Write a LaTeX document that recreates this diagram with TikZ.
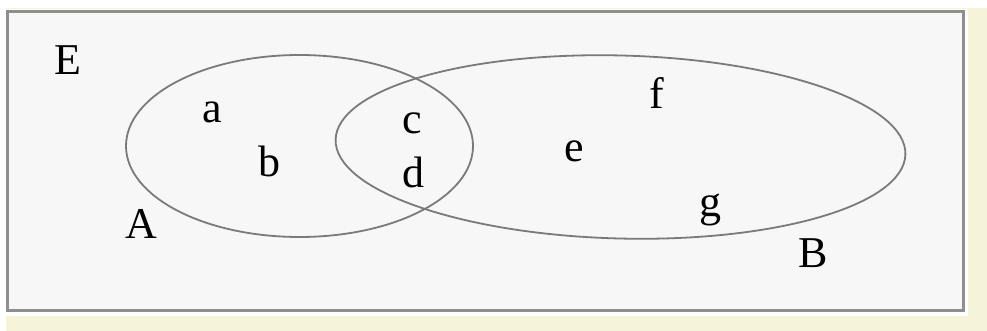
\documentclass[tikz,border=0pt]{standalone}
\usepackage{fontspec}
\setmainfont{Liberation Serif}
\definecolor{cream}{HTML}{F5F4D8}
\definecolor{panel}{HTML}{F7F7F7}
\definecolor{framegray}{HTML}{8E8E8E}
\definecolor{linegray}{HTML}{7A7A7A}
\begin{document}
\begin{tikzpicture}[x=1pt,y=-1pt,
  lbl/.style={inner sep=0pt,anchor=base,font=\fontsize{44}{52}\selectfont,text=black},
  setline/.style={draw=linegray,line width=1.8pt}]
\useasboundingbox (0,0) rectangle (987,331);
\fill[white] (0,0) rectangle (987,331);
\fill[cream] (6,8) rectangle (987,331);
\fill[white] (4,9.5) rectangle (968,316);
\draw[framegray,fill=panel,line width=3pt] (7.5,11.5) rectangle (963.5,310.5);
% sets
\draw[setline] (299.5,146) ellipse [x radius=173.5pt, y radius=91pt];
\draw[setline,rotate around={-1.5:(620.5,147)}] (620.5,147) ellipse [x radius=285pt, y radius=91.5pt];
% labels
\node[lbl] (E) at (68,75) {E};
\node[lbl] (a) at (212,123) {a};
\node[lbl] (b) at (269,177) {b};
\node[lbl] (c) at (412,134) {c};
\node[lbl] (d) at (413,187) {d};
\node[lbl] (A) at (141,238) {A};
\node[lbl] (e) at (574,162) {e};
\node[lbl] (f) at (657,109) {f};
\node[lbl] (g) at (710,216) {g};
\node[lbl] (B) at (813,267) {B};
\end{tikzpicture}
\end{document}
